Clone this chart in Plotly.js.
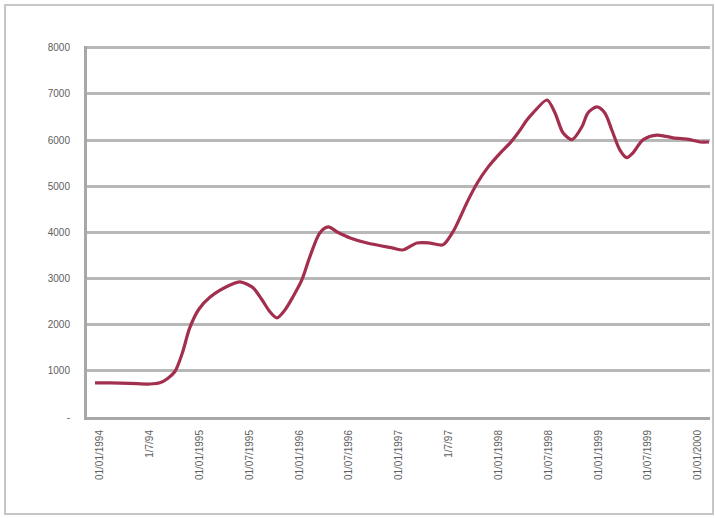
<!DOCTYPE html>
<html>
<head>
<meta charset="utf-8">
<script src="https://cdn.plot.ly/plotly-3.0.1.min.js"></script>
<style>
  html, body { margin: 0; padding: 0; background: #fff; }
  #wrap { position: relative; width: 715px; height: 518px; }
  #chart { position: absolute; left: 0; top: 0; width: 715px; height: 518px; }
  #frame { position: absolute; left: 4px; top: 4px; width: 706px; height: 507px;
           border: 2px solid #c6c6c6; pointer-events: none; }
</style>
</head>
<body>
<div id="wrap">
  <div id="chart"></div>
  <div id="frame"></div>
</div>
<script>
// Period position (in tick-label units) and value of each point of the series
const periods = [-0.10, 0.20, 0.60, 1.00, 1.20, 1.35, 1.50, 1.65, 1.80, 1.98, 2.21, 2.61, 2.81,
  3.07, 3.25, 3.41, 3.55, 3.71, 3.87, 4.05, 4.21, 4.41, 4.58, 4.76, 5.02, 5.36, 5.88, 6.08,
  6.36, 6.62, 6.88, 7.08, 7.22, 7.36, 7.57, 7.79, 8.03, 8.23, 8.39, 8.57, 8.69, 8.97, 9.13,
  9.29, 9.47, 9.67, 9.79, 9.97, 10.13, 10.27, 10.43, 10.57, 10.69, 10.90, 11.18, 11.50,
  11.84, 12.04, 12.22];
const values = [740, 740, 730, 715, 740, 830, 980, 1380, 1930, 2330, 2600, 2860, 2930,
  2800, 2540, 2280, 2150, 2320, 2600, 2970, 3470, 3990, 4120, 4010, 3880, 3770, 3660, 3620,
  3770, 3770, 3730, 4010, 4310, 4640, 5070, 5420, 5720, 5940, 6160, 6440, 6590, 6870, 6590,
  6160, 6010, 6290, 6590, 6720, 6590, 6220, 5790, 5620, 5720, 6010, 6110, 6050,
  6010, 5960, 5960];

// X-axis category labels (unreadable in the reference; estimated)
const xLabels = ["01/01/1994", "1/7/94", "01/01/1995", "01/07/1995", "01/01/1996",
  "01/07/1996", "01/01/1997", "1/7/97", "01/01/1998", "01/07/1998", "01/01/1999",
  "01/07/1999", "01/01/2000"];
const xTickPos = [0,1,2,3,4,5,6,7,8,9,10,11,12];

// Y-axis ticks
const yTickVals = [0, 1000, 2000, 3000, 4000, 5000, 6000, 7000, 8000];
const yTickText = ["-", "1000", "2000", "3000", "4000", "5000", "6000", "7000", "8000"];

const trace = {
  x: periods,
  y: values,
  type: 'scatter',
  mode: 'lines',
  line: { color: '#a32f4e', width: 3.2, shape: 'spline', smoothing: 0.8 },
  hoverinfo: 'x+y'
};

const layout = {
  width: 715, height: 518,
  margin: { l: 87, r: 5, t: 46, b: 101, pad: 0 },
  paper_bgcolor: '#ffffff',
  plot_bgcolor: '#ffffff',
  showlegend: false,
  font: { family: 'Liberation Sans, Arial, sans-serif', size: 10, color: '#606060' },
  xaxis: {
    range: [-0.261, 12.24],
    tickmode: 'array',
    tickvals: xTickPos,
    ticktext: xLabels,
    tickangle: -90,
    showgrid: false,
    zeroline: false,
    showline: true,
    linecolor: '#a8a8a8',
    linewidth: 3,
    ticks: '',
    ticklabelstandoff: 6,
    tickfont: { size: 10, color: '#606060' },
    automargin: false
  },
  yaxis: {
    range: [0, 8040],
    tickmode: 'array',
    tickvals: yTickVals,
    ticktext: yTickText,
    showgrid: true,
    gridcolor: '#b8b8b8',
    gridwidth: 3,
    zeroline: false,
    showline: true,
    linecolor: '#a8a8a8',
    linewidth: 3,
    ticks: '',
    ticklabelstandoff: 12,
    tickfont: { size: 10, color: '#606060' },
    automargin: false
  }
};

Plotly.newPlot('chart', [trace], layout, { displayModeBar: false, staticPlot: true });
</script>
</body>
</html>
